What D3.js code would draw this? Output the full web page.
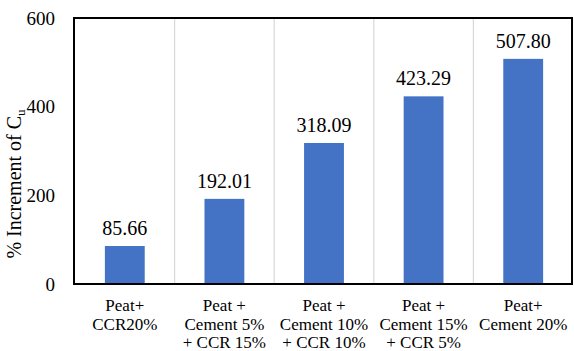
<!DOCTYPE html>
<html>
<head>
<meta charset="utf-8">
<script src="https://cdn.jsdelivr.net/npm/d3@7"></script>
<style>
  body { margin: 0; background: #fff; }
</style>
</head>
<body>
<div id="chart"></div>
<script>
const categories = ["Peat+|CCR20%", "Peat +|Cement 5%|+ CCR 15%", "Peat +|Cement 10%|+ CCR 10%", "Peat +|Cement 15%|+ CCR 5%", "Peat+|Cement 20%"];
const values = [85.66, 192.01, 318.09, 423.29, 507.80];
const yTicks = [0, 200, 400, 600];

const FONT = "'Liberation Serif', 'Times New Roman', serif";
const width = 574, height = 351;
const margin = { top: 18, right: 2, bottom: 67, left: 74 };

const svg = d3.select("#chart").append("svg")
  .attr("width", width).attr("height", height)
  .style("font-family", FONT);

const x = d3.scaleBand().domain(categories)
  .range([margin.left, width - margin.right]).paddingInner(0).paddingOuter(0);
const y = d3.scaleLinear().domain([0, 600]).range([height - margin.bottom, margin.top]);

// vertical separators between categories
svg.append("g").selectAll("line")
  .data(categories.slice(1))
  .enter().append("line")
  .attr("x1", d => x(d) + 1).attr("x2", d => x(d) + 1)
  .attr("y1", y(600)).attr("y2", y(0))
  .attr("stroke", "#d9d9d9").attr("stroke-width", 1.2);

const barW = x.bandwidth() * 0.4;
svg.append("g").selectAll("rect")
  .data(values)
  .enter().append("rect")
  .attr("x", (d, i) => x(categories[i]) + x.bandwidth() / 2 - barW / 2 + 1)
  .attr("y", d => y(d))
  .attr("width", barW)
  .attr("height", d => y(0) - y(d))
  .attr("fill", "#4472c4");

svg.append("g").selectAll("text")
  .data(values)
  .enter().append("text")
  .attr("x", (d, i) => x(categories[i]) + x.bandwidth() / 2 + 1)
  .attr("y", d => y(d) - 11)
  .attr("text-anchor", "middle")
  .style("font-family", FONT)
  .style("font-size", "20px")
  .attr("fill", "#000")
  .text(d => d.toFixed(2));

// plot frame
svg.append("rect")
  .attr("x", margin.left).attr("y", margin.top)
  .attr("width", width - margin.left - margin.right)
  .attr("height", height - margin.top - margin.bottom)
  .attr("fill", "none").attr("stroke", "#000").attr("stroke-width", 2);

// y axis labels
const yAxis = svg.append("g")
  .attr("transform", `translate(${margin.left},0)`)
  .call(d3.axisLeft(y).tickValues(yTicks).tickSize(0).tickPadding(19));
yAxis.select(".domain").remove();
yAxis.selectAll("text")
  .style("font-size", "19px")
  .style("font-family", FONT)
  .attr("fill", "#000");

// x labels
const xl = svg.append("g").selectAll("text")
  .data(categories)
  .enter().append("text")
  .attr("text-anchor", "middle")
  .attr("x", d => x(d) + x.bandwidth() / 2 + 1)
  .attr("y", 311)
  .style("font-family", FONT)
  .style("font-size", "17px")
  .attr("fill", "#000");
xl.selectAll("tspan")
  .data(d => d.split("|"))
  .enter().append("tspan")
  .attr("x", function () { return d3.select(this.parentNode).attr("x"); })
  .attr("dy", (d, i) => i === 0 ? 0 : 18.5)
  .text(d => d);

// y title (sits lower than the plot centre in the original)
const title = svg.append("text")
  .attr("transform", "translate(21,184) rotate(-90)")
  .attr("text-anchor", "middle")
  .style("font-family", FONT)
  .style("font-size", "20px")
  .attr("fill", "#000");
title.append("tspan").text("% Increment of C");
title.append("tspan").attr("dy", 4).style("font-size", "13px").text("u");
</script>
</body>
</html>
